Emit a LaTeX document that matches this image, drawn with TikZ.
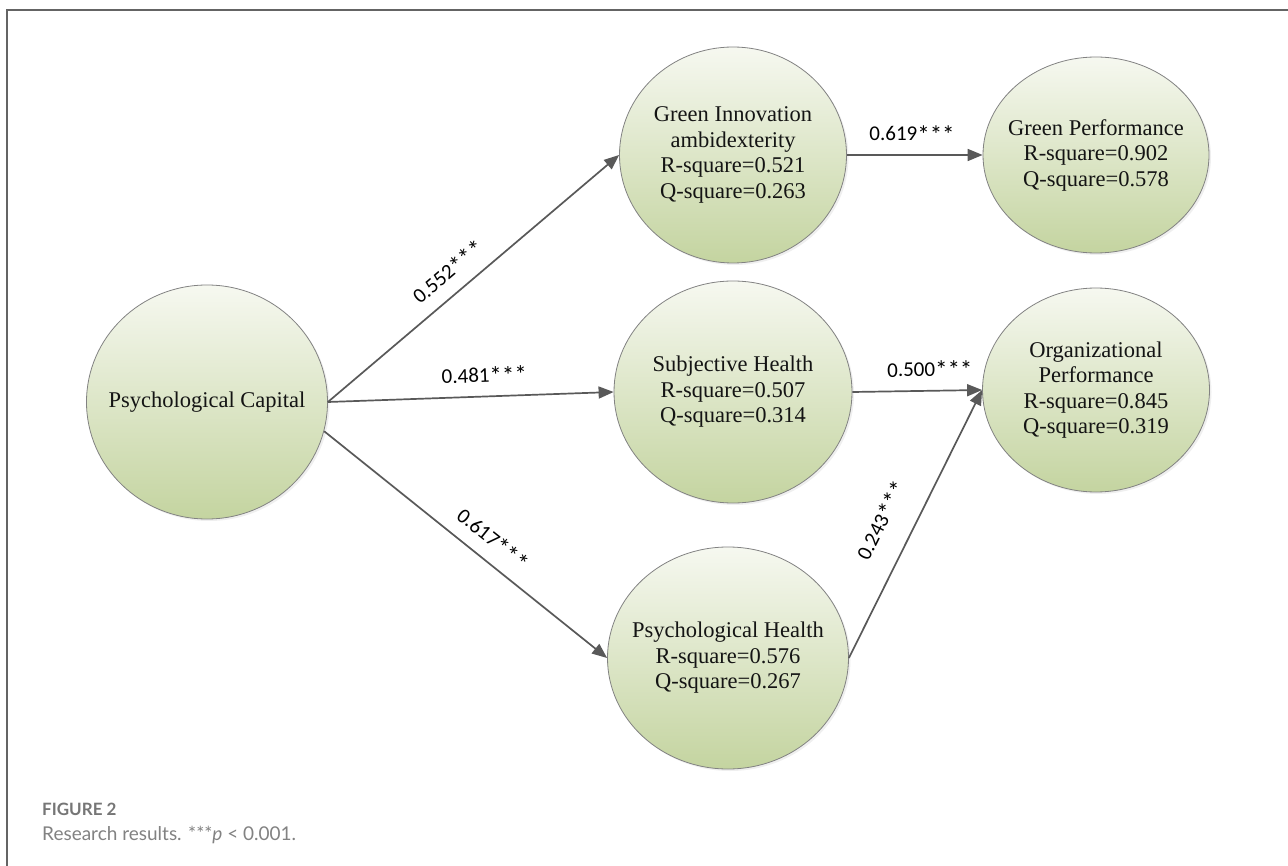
\documentclass[tikz,border=0pt]{standalone}
\usepackage{fontspec}
\setmainfont{Liberation Serif}
\newfontfamily\labfont{Carlito}
\newfontfamily\capfont{Lato}
\usetikzlibrary{shapes.geometric,arrows.meta,shadows}
\definecolor{linegray}{RGB}{89,89,89}
\definecolor{circtop}{RGB}{246,248,240}
\definecolor{circbot}{RGB}{196,212,160}
\definecolor{circedge}{RGB}{130,130,130}
\definecolor{framegray}{RGB}{100,100,100}
\definecolor{capgray}{RGB}{118,118,118}
\definecolor{captext}{RGB}{130,130,130}
\definecolor{nodetext}{RGB}{20,20,20}
\newcommand{\sigstars}{\raisebox{-0.12em}{\fontsize{25}{25}\selectfont ***}}
\begin{document}
\begin{tikzpicture}[x=1pt,y=-1pt,
  latent/.style={ellipse, draw=circedge, line width=0.8pt, top color=circtop, bottom color=circbot,
    inner xsep=-40pt, inner ysep=0pt, align=center, text=nodetext, font=\fontsize{22.5}{25.5}\selectfont,
    drop shadow={opacity=0.12, shadow xshift=2pt, shadow yshift=-2pt}},
  arrowline/.style={draw=linegray, line width=1.7pt, -{Triangle[length=15pt,width=12pt]}},
  coef/.style={font=\labfont\fontsize{21}{24}\selectfont, text=black, inner sep=2pt, sloped, above=9pt},
  capbold/.style={font=\capfont\bfseries\fontsize{17}{20}\selectfont, text=capgray, inner sep=0pt, anchor=base west},
  capline/.style={font=\capfont\fontsize{19}{22}\selectfont, text=captext, inner sep=0pt, anchor=base west}
]
\useasboundingbox (0,0) rectangle (1288,866);
\fill[white] (0,0) rectangle (1288,866);
\draw[framegray, line width=1.8pt] (7,866) -- (7,10) -- (1288,10);

\node[latent, minimum width=241pt, minimum height=234pt] (pc) at (207,402) {Psychological Capital};
\node[latent, minimum width=227pt, minimum height=216pt] (gia) at (733,155) {Green Innovation\\ambidexterity\\R-square=0.521\\Q-square=0.263};
\node[latent, minimum width=226pt, minimum height=196pt] (gp) at (1096,155) {Green Performance\\R-square=0.902\\Q-square=0.578};
\node[latent, minimum width=238pt, minimum height=222pt] (sh) at (733,392) {Subjective Health\\R-square=0.507\\Q-square=0.314};
\node[latent, minimum width=241pt, minimum height=222pt] (ph) at (728,658) {Psychological Health\\R-square=0.576\\Q-square=0.267};
\node[latent, minimum width=227pt, minimum height=204pt] (op) at (1096,390) {Organizational\\Performance\\R-square=0.845\\Q-square=0.319};

\draw[arrowline] (pc.east) -- (gia.west) node[coef, pos=0.46] {0.552\sigstars};
\draw[arrowline] (pc.east) -- (sh.west) node[coef, pos=0.55] {0.481\sigstars};
\draw[arrowline] (pc.-14) -- (ph.west) node[coef, pos=0.55] {0.617\sigstars};
\draw[arrowline] (gia.east) -- (gp.west) node[coef, pos=0.48] {0.619\sigstars};
\draw[arrowline] (sh.east) -- (op.west) node[coef, pos=0.6] {0.500\sigstars};
\draw[arrowline] (ph.east) -- (op.west) node[coef, pos=0.46, above=11pt] {0.243\sigstars};

\node[capbold] (figlabel) at (42,815) {FIGURE 2};
\node[capline] (figcap) at (42,840) {Research results. ***\textit{p} \textless{} 0.001.};
\end{tikzpicture}
\end{document}
